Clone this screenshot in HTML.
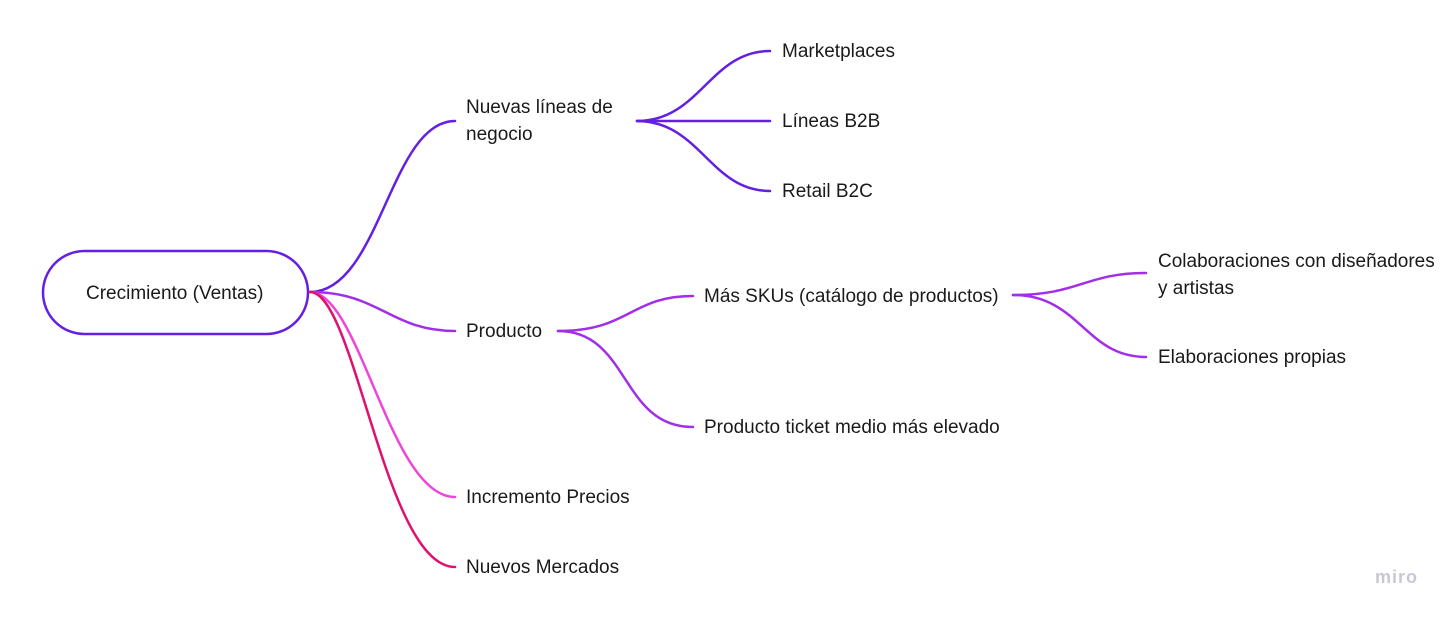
<!DOCTYPE html>
<html><head><meta charset="utf-8"><style>
html,body{margin:0;padding:0;background:#fff;}
body{width:1456px;height:618px;overflow:hidden;position:relative;font-family:"Liberation Sans",sans-serif;color:#1a1a1a;}
.t{position:absolute;font-size:19px;line-height:27px;white-space:nowrap;}
</style></head><body>
<svg width="1456" height="618" style="position:absolute;left:0;top:0" fill="none" stroke-width="2.5" stroke-linecap="round">
<rect x="43" y="251" width="265" height="83" rx="41.5" stroke="#6420e0" fill="#fff"/>
<path d="M310 292 C380 292 390 121 455 121" stroke="#6420e0"/>
<path d="M310 292 C380 292 390 331 455 331" stroke="#a22ee8"/>
<path d="M310 292 C360 292 390 497 455 497" stroke="#ee44d8"/>
<path d="M310 292 C355 292 385 567 455 567" stroke="#e0106e"/>
<path d="M637 121 C700 121 710 51 770 51" stroke="#6420e0"/>
<path d="M637 121 L770 121" stroke="#6420e0"/>
<path d="M637 121 C700 121 710 191 770 191" stroke="#6420e0"/>
<path d="M558 331 C630 331 630 296 693 296" stroke="#a22ee8"/>
<path d="M558 331 C630 331 620 427 693 427" stroke="#a22ee8"/>
<path d="M1013 295 C1080 295 1085 273 1146 273" stroke="#a22ee8"/>
<path d="M1013 295 C1080 295 1085 357 1146 357" stroke="#a22ee8"/>
</svg>
<div class="t" style="left:86px;top:280px;">Crecimiento (Ventas)</div>
<div class="t" style="left:466px;top:94px;">Nuevas líneas de<br>negocio</div>
<div class="t" style="left:466px;top:318px;">Producto</div>
<div class="t" style="left:466px;top:484px;">Incremento Precios</div>
<div class="t" style="left:466px;top:554px;">Nuevos Mercados</div>
<div class="t" style="left:782px;top:38px;">Marketplaces</div>
<div class="t" style="left:782px;top:108px;">Líneas B2B</div>
<div class="t" style="left:782px;top:178px;">Retail B2C</div>
<div class="t" style="left:704px;top:283px;">Más SKUs (catálogo de productos)</div>
<div class="t" style="left:704px;top:414px;">Producto ticket medio más elevado</div>
<div class="t" style="left:1158px;top:248px;">Colaboraciones con diseñadores<br>y artistas</div>
<div class="t" style="left:1158px;top:344px;">Elaboraciones propias</div>
<div class="t" style="left:1375px;top:564px;color:#c8c8d4;font-weight:bold;font-size:18px;letter-spacing:1px;">miro</div>
</body></html>
